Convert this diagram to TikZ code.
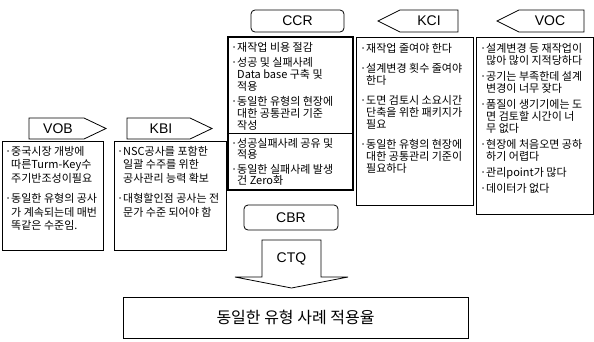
\documentclass[tikz,border=0pt]{standalone}
\usepackage{fontspec}
\setmainfont{Noto Sans CJK KR}
\newfontfamily\labf{Liberation Sans}
\newcommand\bl{\makebox[6pt][l]{·}}
\newcommand\ii{\hspace*{6pt}}
\tikzset{
  frame/.style={draw=black, line width=0.8pt},
  thickframe/.style={draw=black, line width=1.4pt},
  lab/.style={font={\labf\fontsize{14}{14}\selectfont}, inner sep=0pt},
  body/.style={anchor=north west, align=left, inner sep=0pt, font={\fontsize{11}{12}\selectfont}},
  bodyl/.style={anchor=north west, align=left, inner sep=0pt, font={\fontsize{11}{13.5}\selectfont}},
  roundlab/.style={draw=black, line width=0.8pt, rounded corners=4pt, font={\labf\fontsize{14}{14}\selectfont}},
}
\begin{document}
\begin{tikzpicture}[x=1pt,y=-1pt]
\useasboundingbox (0,0) rectangle (594,341);

% ---- top labels ----
\node[roundlab, minimum width=93pt, minimum height=22pt] (ccr) at (297.5,21) {CCR};
\draw[frame] (378,21) -- (400,10) -- (458,10) -- (458,32) -- (400,32) -- cycle;
\node[lab] (kci) at (429,21) {KCI};
\draw[frame] (497,21) -- (519,10) -- (584,10) -- (584,32) -- (519,32) -- cycle;
\node[lab] (voc) at (550,21) {VOC};

% ---- CCR box ----
\draw[thickframe] (228,37) rectangle (353,190);
\draw[frame] (228,133) -- (353,133);
\node[body] (ccrt) at (231,42) {\bl 재작업 비용 절감\\[3pt]
\bl 성공 및 실패사례\\ \ii Data base 구축 및\\ \ii 적용\\[3pt]
\bl 동일한 유형의 현장에\\ \ii 대한 공통관리 기준\\ \ii 작성};
\node[body, font={\fontsize{11}{11.5}\selectfont}] (ccrb) at (231,138) {\bl 성공실패사례 공유 및\\ \ii 적용\\[3pt]
\bl 동일한 실패사례 발생\\ \ii 건 Zero화};

% ---- KCI box ----
\draw[frame] (356,37) rectangle (473,205);
\node[body] (kcit) at (360,43) {\bl 재작업 줄여야 한다\\[8pt]
\bl 설계변경 횟수 줄여야\\ \ii 한다\\[8pt]
\bl 도면 검토시 소요시간\\ \ii 단축을 위한 패키지가\\ \ii 필요\\[8pt]
\bl 동일한 유형의 현장에\\ \ii 대한 공통관리 기준이\\ \ii 필요하다};

% ---- VOC box ----
\draw[frame, line width=0.6pt] (476,37) rectangle (593,214);
\node[body] (voct) at (480,43) {\bl 설계변경 등 재작업이\\ \ii 많아 많이 지적당하다\\[4pt]
\bl 공기는 부족한데 설계\\ \ii 변경이 너무 잦다\\[4pt]
\bl 품질이 생기기에는 도\\ \ii 면 검토할 시간이 너\\ \ii 무 없다\\[4pt]
\bl 현장에 처음오면 공하\\ \ii 하기 어렵다\\[4pt]
\bl 관리point가 많다\\[4pt]
\bl 데이터가 없다};

% ---- left labels ----
\draw[frame] (29,118) -- (84,118) -- (106,128.5) -- (84,139) -- (29,139) -- cycle;
\node[lab] (vob) at (58,128.5) {VOB};
\draw[frame] (127,118) -- (190,118) -- (212,128.5) -- (190,139) -- (127,139) -- cycle;
\node[lab] (kbi) at (161,128.5) {KBI};

% ---- VOB box ----
\draw[frame] (2,141) rectangle (103,250);
\node[bodyl] (vobt) at (5,146) {\bl 중국시장 개방에\\ \ii 따른Turm-Key수\\ \ii 주기반조성이필요\\[7pt]
\bl 동일한 유형의 공사\\ \ii 가 계속되는데 매번\\ \ii 똑같은 수준임.};

% ---- KBI box ----
\draw[frame] (114,141) rectangle (226,250);
\node[bodyl] (kbit) at (117,146) {\bl NSC공사를 포함한\\ \ii 일괄 수주를 위한\\ \ii 공사관리 능력 확보\\[7pt]
\bl 대형할인점 공사는 전\\ \ii 문가 수준 되어야 함};

% ---- CBR / CTQ ----
\node[roundlab, minimum width=94pt, minimum height=25pt] (cbr) at (291,217.5) {CBR};
\draw[frame] (262,240) -- (321,240) -- (321,277) -- (348,277) -- (291.5,288) -- (235,277) -- (262,277) -- cycle;
\node[lab] (ctq) at (291.5,259) {CTQ};

% ---- bottom box ----
\draw[frame] (123,297) rectangle (468,338);
\node[inner sep=0pt, font={\fontsize{16}{16}\selectfont}] (res) at (295.5,317.5) {동일한 유형 사례 적용율};
\end{tikzpicture}
\end{document}
